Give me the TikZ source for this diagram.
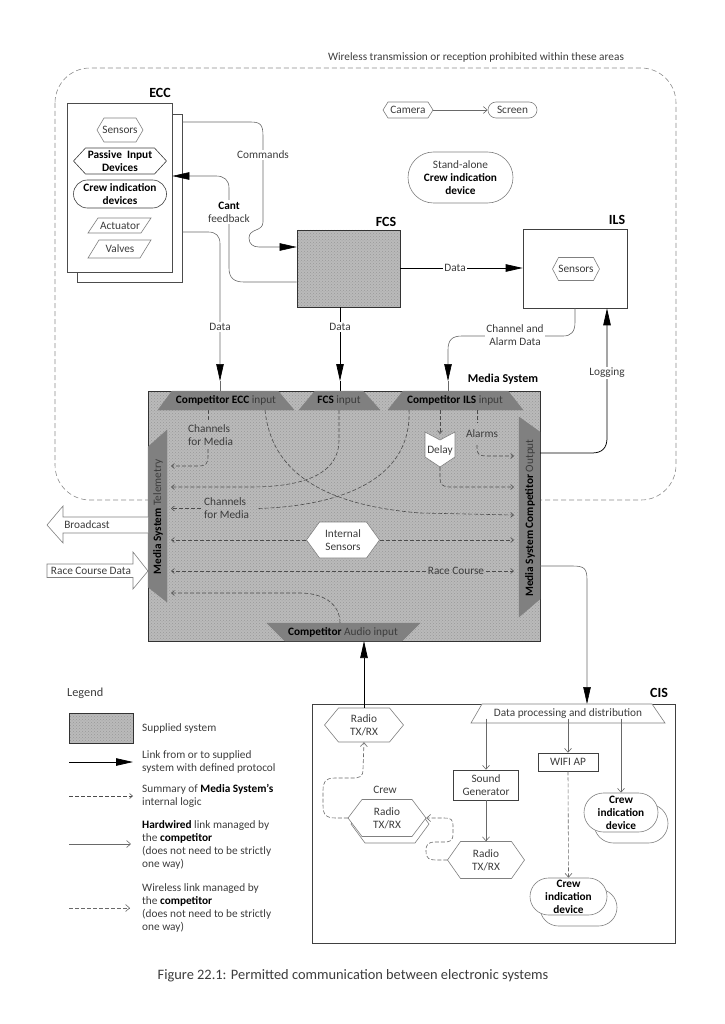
\documentclass[tikz,border=0pt]{standalone}
\usepackage{fontspec}
\setmainfont{Carlito}
\usetikzlibrary{arrows.meta,shapes.misc,patterns}
\definecolor{txt}{RGB}{60,60,60}
\definecolor{ln}{RGB}{105,105,105}
\definecolor{supfill}{RGB}{186,186,186}
\definecolor{trapfill}{RGB}{128,128,128}
\newcommand{\bb}[1]{\textcolor{black}{\textbf{#1}}}
% style, name, cx, cy, w, h, depth, text
\newcommand{\hexa}[8]{%
  \draw[#1] ({#3-#5/2},#4) -- ({#3-#5/2+#7},{#4-#6/2}) -- ({#3+#5/2-#7},{#4-#6/2}) -- ({#3+#5/2},#4) -- ({#3+#5/2-#7},{#4+#6/2}) -- ({#3-#5/2+#7},{#4+#6/2}) -- cycle;
  \node[inner sep=0pt, minimum width=#5pt, minimum height=#6pt, align=center] (#2) at (#3,#4) {#8};}
\begin{document}
\begin{tikzpicture}[x=1pt,y=-1pt,
  every node/.style={font=\fontsize{11.3}{13}\selectfont, text=txt},
  lbl/.style={fill=white, inner sep=1.5pt, align=center},
  ttl/.style={font=\fontsize{14}{16}\selectfont\bfseries, text=black, inner sep=0pt},
  arr/.style={draw=black, line width=0.75pt, -{Triangle[length=17pt,width=7.5pt]}},
  garr/.style={draw=ln, line width=0.6pt, -{Triangle[length=17pt,width=7.5pt,color=black]}},
  hw/.style={draw=ln, line width=0.6pt, -{Straight Barb[length=4pt,width=7pt]}},
  wl/.style={draw=ln, line width=0.6pt, dash pattern=on 4pt off 2pt, -{Straight Barb[length=4pt,width=7pt]}},
  lgc/.style={draw=black!70, line width=0.6pt, dash pattern=on 4pt off 2pt},
  lgca/.style={lgc, -{Straight Barb[length=3pt,width=5pt]}},
  supplied/.style={draw=black!80, line width=0.7pt, preaction={fill=supfill}, pattern=crosshatch dots, pattern color=black!40},
  trapz/.style={fill=trapfill, draw=trapfill},
  shp/.style={draw=black!75, line width=0.6pt, fill=white},
  gshp/.style={draw=black!50, line width=0.6pt, fill=white},
  bx/.style={inner sep=0pt, align=center}]
\useasboundingbox (0,0) rectangle (724,1024);

% prohibited region
\draw[draw=black!45, line width=0.6pt, dash pattern=on 5pt off 3pt, rounded corners=35pt] (55,68) rectangle (676,500);
\node (wl0) at (476,57) {Wireless transmission or reception prohibited within these areas};

% ECC
\node[shp, draw=black!70, minimum width=105pt, minimum height=168pt, inner sep=0pt] (eccb) at (129.5,198) {};
\node[shp, draw=black!70, minimum width=105pt, minimum height=169pt, inner sep=0pt] (ecc) at (119.5,187.5) {};
\node[ttl] (ecct) at (160,93) {ECC};
\hexa{gshp}{sens1}{120}{130}{46}{24}{7}{Sensors}
\hexa{shp}{pid}{120}{161}{93}{26}{12}{\bb{Passive\ \ Input}\\\bb{Devices}}
\node[shp, rounded rectangle, minimum width=93pt, minimum height=28pt, inner sep=0pt, align=center] (cid0) at (120,194) {\bb{Crew indication}\\\bb{devices}};
\draw[gshp] (88,233) -- (98,218) -- (151,218) -- (141,233) -- cycle;
\node[bx] (act) at (120,225.5) {Actuator};
\draw[gshp] (88,258) -- (99,240) -- (151,240) -- (140,258) -- cycle;
\node[bx] (val) at (120,249) {Valves};

% top right items
\hexa{gshp}{cam}{408}{110}{50}{16}{5}{Camera}
\node[gshp, rounded rectangle, minimum width=49pt, minimum height=16pt, inner sep=0pt] (scr) at (512.5,110) {Screen};
\draw[hw] (cam.east) -- (scr.west);
\node[gshp, rounded rectangle, minimum width=105pt, minimum height=51pt, inner sep=0pt, align=center] (sacid) at (460.5,177.5) {Stand-alone\\\bb{Crew indication}\\\bb{device}};

% FCS
\node[supplied, minimum width=103pt, minimum height=77pt, inner sep=0pt] (fcs) at (348.5,268.5) {};
\node[ttl] (fcst) at (386,222) {FCS};

% ILS
\node[shp, minimum width=104pt, minimum height=79pt, inner sep=0pt] (ils) at (575,268.5) {};
\node[ttl] (ilst) at (617,220) {ILS};
\hexa{gshp}{sens2}{576}{269}{47}{23}{6}{Sensors}

% ECC <-> FCS connectors
\draw[garr] (eccb.east |- 0,122) -- (250,122) .. controls +(10,0) and +(0,-12) .. (263,136) -- (263,222) .. controls +(0,10) and +(0,-10) .. (249,238) .. controls +(0,6) and +(-6,0) .. (259,247) -- (fcs.west |- 0,247);
\node[lbl] (cmdl) at (263,155) {Commands};
\draw[garr] (fcs.west |- 0,282) -- (244,282) .. controls +(-10,0) and +(0,10) .. (229,268) -- (229,188) .. controls +(0,-8) and +(8,0) .. (216,176) -- (ecc.east |- 0,176);
\node[lbl] (cantl) at (229,212) {\bb{Cant}\\feedback};

% FCS -> ILS
\draw[arr] (fcs.east |- 0,268) -- (ils.west |- 0,268);
\node[lbl] (d3) at (455,268) {Data};

% Media System box
\node[supplied, minimum width=392pt, minimum height=250pt, inner sep=0pt] (ms) at (344,516) {};
\node[font=\fontsize{12}{14}\selectfont\bfseries, text=black, inner sep=0pt] (mst) at (503,379) {Media System};

% data lines into Media System
\draw[garr] (eccb.east |- 0,232) -- (208,232) .. controls +(8,0) and +(0,-8) .. (220,244) -- (220,381);
\draw[draw=ln, line width=0.6pt] (220,381) -- (220,391);
\node[lbl] (d1) at (220,327) {Data};
\draw[arr] (fcs.south -| 340,0) -- (340,381);
\draw[black, line width=0.75pt] (340,381) -- (340,391);
\node[lbl] (d2) at (340,327) {Data};
\draw[garr] (ils.south -| 575,0) -- (575,322) .. controls +(0,10) and +(8,0) .. (563,336) -- (462,336) .. controls +(-10,0) and +(0,-10) .. (448,350) -- (448,381);
\draw[draw=ln, line width=0.6pt] (448,381) -- (448,391);
\node[lbl] (cad) at (515,335) {Channel and\\Alarm Data};

% trapezoids
\draw[trapz] (172,391) -- (278,391) -- (294,410) -- (158,410) -- cycle;
\node[bx] (eccin) at (226,400.5) {\bb{Competitor ECC} input};
\draw[trapz] (315,391) -- (363,391) -- (380,410) -- (299,410) -- cycle;
\node[bx] (fcsin) at (339,400.5) {\bb{FCS} input};
\draw[trapz] (403,391) -- (508,391) -- (523,410) -- (388,410) -- cycle;
\node[bx] (ilsin) at (455,400.5) {\bb{Competitor ILS} input};
\draw[trapz] (148,447) -- (167,430) -- (167,602) -- (148,587) -- cycle;
\node[bx, rotate=90] (tel) at (158,517) {\bb{Media System} Telemetry};
\draw[trapz] (540,432) -- (519,417) -- (519,617) -- (540,599) -- cycle;
\node[bx, rotate=90] (outp) at (530,518) {\bb{Media System Competitor} Output};
\draw[trapz] (267,623) -- (420,623) -- (402,641) -- (285,641) -- cycle;
\node[bx] (audin) at (343,632.5) {\bb{Competitor} Audio input};

% internal logic
\draw[lgc] (208,410) -- (208,421);
\draw[lgca] (208,449) -- (208,456) .. controls +(0,8) and +(8,0) .. (198,466) -- (171,466);
\node[anchor=west, align=left, inner sep=0pt] (cfm1) at (188,435.5) {Channels\\for Media};
\draw[lgca] (265,410) .. controls (271,470) and (320,505) .. (420,513) -- (514,515);
\draw[lgca] (339,410) -- (339,440) .. controls (339,478) and (295,487) .. (250,487) -- (171,487);
\draw[lgc] (409,410) .. controls (412,480) and (340,506) .. (258,508.5);
\draw[lgca] (201,508.5) -- (171,508.5);
\node[anchor=west, align=left, inner sep=0pt] (cfm2) at (204,508.5) {Channels\\for Media};
\draw[lgca] (440,410) -- (440,434);
\draw[gshp] (425,432) -- (440,440) -- (455,432) -- (455,457) -- (440,467) -- (425,457) -- cycle;
\node[bx] (delay) at (440,450) {Delay};
\draw[lgca] (440,467) -- (440,478) .. controls +(0,6) and +(-8,0) .. (450,487) -- (514,487);
\draw[lgc] (477,410) -- (477,423);
\node[bx] (alarms) at (482,434) {Alarms};
\draw[lgca] (477,445) -- (477,448) .. controls +(0,6) and +(-8,0) .. (487,456) -- (514,456);
\hexa{gshp}{isens}{343}{540}{73}{36}{13}{Internal\\Sensors}
\draw[lgca] (isens.west) -- (171,540);
\draw[lgca] (isens.east) -- (514,540);
\node[bx] (rc) at (456,571) {Race Course};
\draw[lgca] (426,571) -- (171,571);
\draw[lgca] (486,571) -- (514,571);
\draw[lgca] (340,623) .. controls (340,603) and (322,593) .. (300,593) -- (171,593);

% Logging and to CIS
\draw[arr] (540,453) -- (592,453) .. controls +(10,0) and +(0,10) .. (607,438) -- (ils.south -| 607,0);
\node[lbl] (logl) at (607,373) {Logging};

% Broadcast / Race Course Data
\draw[gshp] (148,517) -- (63,517) -- (63,506) -- (47,525) -- (63,543) -- (63,533) -- (148,533);
\node[bx] (bc) at (87,525) {Broadcast};
\draw[gshp] (148,571) -- (133,589) -- (133,577.5) -- (47,577.5) -- (47,564) -- (133,564) -- (133,552) -- cycle;
\node[bx] (rcd) at (91,571) {Race Course Data};

% CIS
\node[shp, minimum width=363pt, minimum height=239pt, inner sep=0pt] (cis) at (493.5,823.5) {};
\node[ttl] (cist) at (659,693) {CIS};
\draw[garr] (540,566) -- (572,566) .. controls +(12,0) and +(0,-12) .. (587,580) -- (587,704);
\draw[gshp] (482,704) -- (652,704) -- (665,723) -- (471,723) -- cycle;
\node[bx] (dp) at (568,713.5) {Data processing and distribution};
\hexa{gshp}{radio1}{364}{725}{79}{34}{14}{Radio\\TX/RX}
\draw[arr] (radio1.north) -- (radio1.north |- 0,641);
\node[bx] (crew) at (385,790) {Crew};
\draw[gshp] (351,824) -- (365,805) -- (415,805) -- (429,824) -- (415,843) -- (365,843) -- cycle;
\hexa{gshp}{radio3}{387}{818}{78}{37}{14}{Radio\\TX/RX}
\node[shp, minimum width=65pt, minimum height=30pt, inner sep=0pt, align=center] (sg) at (486,785) {Sound\\Generator};
\hexa{gshp}{radio2}{486}{860}{77}{37}{13}{Radio\\TX/RX}
\node[shp, minimum width=60pt, minimum height=18pt, inner sep=0pt] (wifi) at (568,762) {WIFI AP};
\node[gshp, rounded rectangle, minimum width=74pt, minimum height=39pt, inner sep=0pt] (cid1b) at (631,823.5) {};
\node[gshp, rounded rectangle, minimum width=74pt, minimum height=39pt, inner sep=0pt, align=center] (cid1) at (621,812.5) {\bb{Crew}\\\bb{indication}\\\bb{device}};
\node[gshp, rounded rectangle, minimum width=77pt, minimum height=37pt, inner sep=0pt] (cid2b) at (578.5,907.5) {};
\node[gshp, rounded rectangle, minimum width=77pt, minimum height=37pt, inner sep=0pt, align=center] (cid2) at (568.5,896.5) {\bb{Crew}\\\bb{indication}\\\bb{device}};
\draw[hw] (dp.south -| sg.north) -- (sg.north);
\draw[hw] (sg.south) -- (radio2.north);
\draw[hw] (dp.south -| wifi.north) -- (wifi.north);
\draw[hw] (dp.south -| cid1.north) -- (cid1.north);
\draw[wl] (wifi.south) -- (cid2.north);
\draw[wl] (radio3.west) -- (336,818) .. controls +(-10,0) and +(0,10) .. (323,805) -- (323,791) .. controls +(0,-9) and +(-10,0) .. (335,778) -- (352,778) .. controls +(8,0) and +(0,8) .. (363,769) -- (radio1.south);
\draw[wl] (radio2.west) -- (438,860) .. controls +(-9,0) and +(0,8) .. (426,851) .. controls +(0,-7) and +(-8,0) .. (436,842) -- (443,842) .. controls +(8,0) and +(0,8) .. (453,833) -- (453,826) .. controls +(0,-7) and +(8,0) .. (443,818) -- (radio3.east);

% Legend
\node[anchor=west, inner sep=0pt, font=\fontsize{12.3}{14}\selectfont] (legt) at (67,693) {Legend};
\node[supplied, minimum width=64pt, minimum height=30pt, inner sep=0pt] (lg1) at (101,728) {};
\node[anchor=west, inner sep=0pt] (lt1) at (142,728) {Supplied system};
\coordinate (la1) at (69,762); \coordinate (lb1) at (133,762);
\draw[arr] (la1) -- (lb1);
\node[anchor=west, inner sep=0pt, align=left] (lt2) at (142,761.5) {Link from or to supplied\\system with defined protocol};
\coordinate (la2) at (69,796); \coordinate (lb2) at (133,796);
\draw[lgca] (la2) -- (lb2);
\node[anchor=west, inner sep=0pt, align=left] (lt3) at (142,795.5) {Summary of \bb{Media System's}\\internal logic};
\coordinate (la3) at (69,844); \coordinate (lb3) at (131,844);
\draw[hw] (la3) -- (lb3);
\node[anchor=west, inner sep=0pt, align=left] (lt4) at (142,844.5) {\bb{Hardwired} link managed by\\the \bb{competitor}\\(does not need to be strictly\\one way)};
\coordinate (la4) at (69,908); \coordinate (lb4) at (130,908);
\draw[wl] (la4) -- (lb4);
\node[anchor=west, inner sep=0pt, align=left] (lt5) at (142,907.5) {Wireless link managed by\\the \bb{competitor}\\(does not need to be strictly\\one way)};

% caption
\node[font=\fontsize{14.4}{16}\selectfont] (cap) at (353,976) {Figure 22.1: Permitted communication between electronic systems};
\end{tikzpicture}
\end{document}
